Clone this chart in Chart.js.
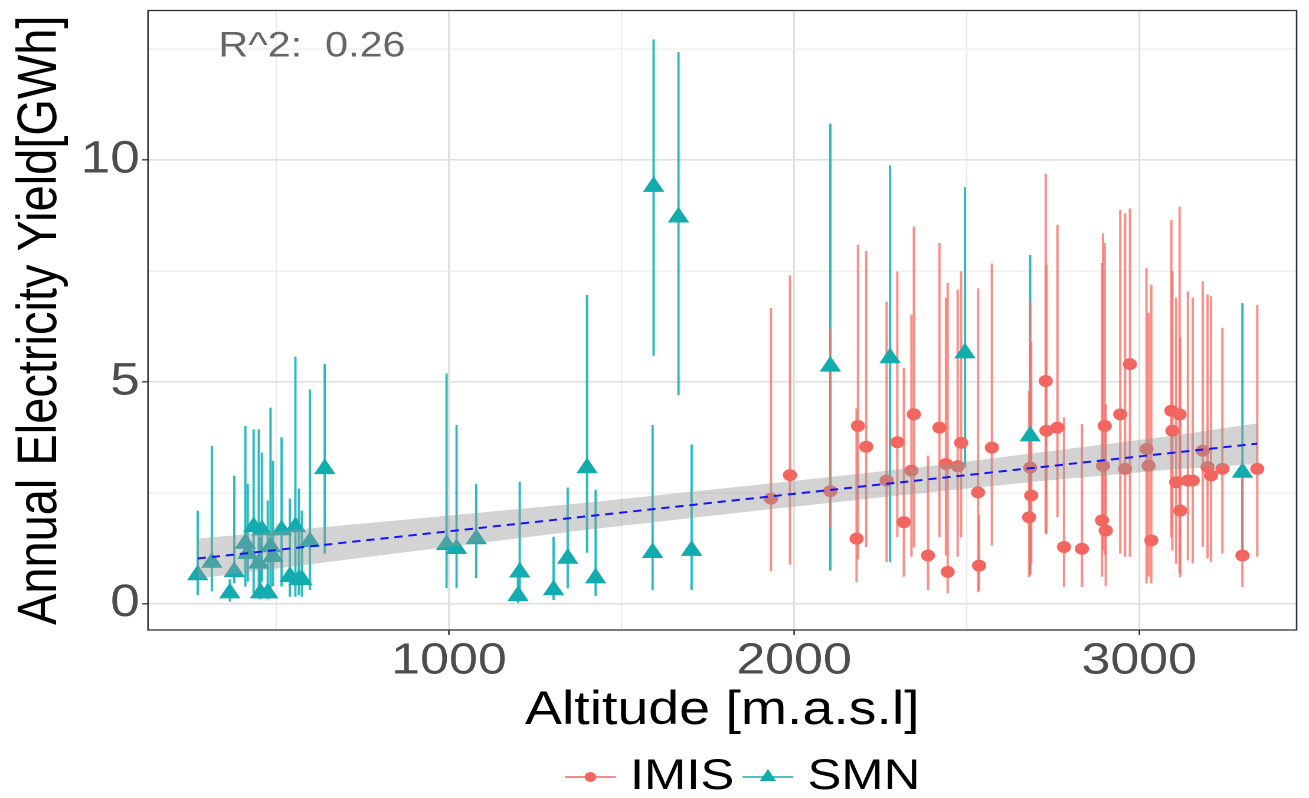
<!DOCTYPE html>
<html>
<head>
<meta charset="utf-8">
<script src="https://cdn.jsdelivr.net/npm/chart.js@4.4.1/dist/chart.umd.min.js"></script>
<style>
html, body { margin: 0; padding: 0; background: #ffffff; width: 1309px; height: 798px; overflow: hidden; }
#wrap { position: absolute; left: 0; top: 0; width: 1109px; height: 798px; transform: scaleX(1.18034); transform-origin: 0 0; }
canvas { display: block; }
</style>
</head>
<body>
<div id="wrap"><canvas id="chart" width="1109" height="798"></canvas></div>
<script>
// ---------------- data ----------------
const smnAltitude = [272, 313, 365, 378, 410, 417, 434, 449, 454, 458, 475, 483, 490, 515, 539, 555, 565, 574, 597, 640,
  993, 1022, 1079, 1200, 1205, 1303, 1344, 1400, 1425, 1590, 1593, 1665, 1703,
  2105, 2278, 2495, 2684, 3299];
const smnYield = [0.65, 0.93, 0.24, 0.72, 1.36, 1.13, 1.73, 0.91, 0.24, 1.66, 0.24, 1.28, 1.06, 1.66, 0.61, 1.73, 0.54, 0.54, 1.40, 3.04,
  1.33, 1.24, 1.46, 0.18, 0.71, 0.31, 1.02, 3.06, 0.58, 1.15, 9.40, 8.71, 1.20,
  5.35, 5.54, 5.65, 3.78, 2.96];
const smnLow = [0.20, 0.28, 0.05, 0.46, 0.39, 0.50, 0.24, 0.31, 0.10, 0.50, 0.10, 0.24, 0.40, 0.39, 0.16, 0.16, 0.20, 0.16, 0.31, 1.13,
  0.35, 0.35, 0.58, 0.00, 0.18, 0.09, 0.35, 1.15, 0.18, 0.31, 5.59, 4.70, 0.31,
  0.75, 0.94, 3.07, 0.67, 1.13];
const smnHigh = [2.10, 3.56, 0.55, 2.89, 4.01, 2.70, 3.93, 3.93, 1.50, 3.41, 2.33, 4.42, 3.22, 3.75, 2.37, 5.57, 2.60, 2.10, 4.83, 5.40,
  5.19, 4.03, 2.70, 0.65, 2.75, 1.51, 2.62, 6.96, 2.57, 4.03, 12.72, 12.43, 3.59,
  10.82, 9.88, 9.39, 7.86, 6.78];

const imisAltitude = [1933, 1988, 2105, 2185, 2181, 2209, 2268, 2299, 2318, 2340, 2347, 2388, 2421, 2445, 2440, 2474, 2484, 2533, 2536, 2573,
  2684, 2687, 2681, 2729, 2731, 2763, 2782, 2834, 2892, 2895, 2900, 2903, 2945, 2959, 2973, 3021, 3035, 3027, 3093, 3096,
  3117, 3119, 3107, 3141, 3155, 3184, 3198, 3208, 3241, 3299, 3342];
const imisYield = [2.37, 2.90, 2.54, 4.01, 1.47, 3.54, 2.78, 3.64, 1.84, 3.00, 4.27, 1.09, 3.97, 0.72, 3.15, 3.10, 3.63, 2.51, 0.86, 3.52,
  3.07, 2.44, 1.95, 5.02, 3.90, 3.97, 1.28, 1.24, 1.88, 3.11, 4.01, 1.65, 4.27, 3.04, 5.40, 3.49, 1.43, 3.11, 4.35, 3.90,
  4.27, 2.10, 2.74, 2.78, 2.78, 3.45, 3.08, 2.89, 3.04, 1.09, 3.04];
const imisLow = [0.73, 0.88, 1.72, 1.00, 0.49, 1.28, 0.94, 1.50, 0.61, 1.06, 1.27, 0.31, 1.50, 0.23, 1.09, 1.06, 1.50, 0.26, 0.30, 1.31,
  0.64, 0.90, 0.60, 1.57, 1.58, 1.95, 0.38, 0.38, 0.61, 1.20, 1.10, 0.40, 1.13, 1.06, 1.06, 0.46, 0.46, 0.61, 1.50, 1.20,
  0.68, 0.60, 0.90, 0.98, 0.91, 1.28, 1.02, 0.94, 1.13, 0.38, 1.06];
const imisHigh = [6.67, 7.40, 6.21, 8.09, 4.40, 7.95, 6.81, 7.49, 5.32, 6.52, 8.50, 3.34, 8.13, 7.23, 6.90, 7.08, 7.49, 7.11, 2.00, 7.67,
  6.81, 5.90, 4.80, 9.69, 7.64, 8.54, 4.20, 4.05, 7.68, 8.35, 8.13, 4.50, 8.88, 8.80, 8.91, 7.57, 7.19, 6.56, 8.65, 7.50,
  8.95, 6.00, 6.90, 7.04, 6.90, 7.27, 6.97, 6.93, 6.22, 3.00, 6.74];

// linear fit and its confidence band
const fitAltitude = [272, 3342];
const fitYield = [1.02, 3.61];
const bandAltitude = [272, 850, 1400, 1930, 2400, 2750, 3100, 3342];
const bandUpper = [1.47, 1.88, 2.28, 2.71, 3.11, 3.45, 3.79, 4.07];
const bandLower = [0.57, 1.14, 1.67, 2.13, 2.52, 2.79, 3.03, 3.15];

// ticks
const xMajorTicks = [1000, 2000, 3000];
const xTickLabels = ['1000', '2000', '3000'];
const xMinorTicks = [500, 1500, 2500];
const yMajorTicks = [0, 5, 10];
const yTickLabels = ['0', '5', '10'];
const yMinorTicks = [2.5, 7.5, 12.5];

// texts
const xTitle = 'Altitude [m.a.s.l]';
const yTitle = 'Annual Electricity Yield[GWh]';
const seriesNames = ['IMIS', 'SMN'];
const annotationText = 'R^2:  0.26';
const annotationAltitude = 603;
const annotationYield = 12.55;

// ---------------- styling ----------------
const RED = '#F2665F';
const TEAL = '#12ACAF';
const RED_BAR = 'rgba(246,112,104,0.78)';
const TEAL_BAR = 'rgba(0,172,176,0.82)';
const FONT = '"Liberation Sans", Arial, Helvetica, sans-serif';
Chart.defaults.font.family = FONT;

const toXY = (xs, ys) => xs.map((x, i) => ({ x: x, y: ys[i] }));
const toRange = (xs, lo, hi) => xs.map((x, i) => ({ x: x, y: [lo[i], hi[i]] }));

const gridColor = (majors) => (ctx) => majors.includes(ctx.tick.value) ? '#E0E0E0' : '#EAEAEA';
const gridWidth = (majors) => (ctx) => majors.includes(ctx.tick.value) ? 1.6 : 1.1;
const tickColor = (majors) => (ctx) => majors.includes(ctx.tick.value) ? '#333333' : 'rgba(0,0,0,0)';

const extras = {
  id: 'ggExtras',
  afterDraw(chart) {
    const { ctx, chartArea: a, scales } = chart;
    ctx.save();
    // panel border
    ctx.strokeStyle = '#333333';
    ctx.lineWidth = 1.3;
    ctx.strokeRect(a.left, a.top, a.right - a.left, a.bottom - a.top);
    // R^2 annotation
    ctx.fillStyle = '#666666';
    ctx.font = '35px ' + FONT;
    ctx.textAlign = 'center';
    ctx.textBaseline = 'middle';
    ctx.fillText(annotationText, scales.x.getPixelForValue(annotationAltitude), scales.y.getPixelForValue(annotationYield));
    // legend (ggplot style key: line + marker)
    const ly = 777;
    const keyW = 43, textGap = 12, itemGap = 7;
    const items = [
      { label: seriesNames[0], color: RED, style: 'circle', r: 5 },
      { label: seriesNames[1], color: TEAL, style: 'triangle', r: 8 }
    ];
    let x = 478.7;
    ctx.font = '43px ' + FONT;
    ctx.textAlign = 'left';
    ctx.textBaseline = 'middle';
    items.forEach(it => {
      ctx.strokeStyle = it.color;
      ctx.lineWidth = 1.6;
      ctx.beginPath();
      ctx.moveTo(x, ly);
      ctx.lineTo(x + keyW, ly);
      ctx.stroke();
      ctx.fillStyle = it.color;
      Chart.helpers.drawPoint(ctx, { pointStyle: it.style, radius: it.r, rotation: 0, borderWidth: 0 }, x + keyW / 2, ly);
      ctx.fillStyle = '#000000';
      const tx = x + keyW + textGap;
      ctx.fillText(it.label, tx, ly);
      x = tx + ctx.measureText(it.label).width + itemGap;
    });
    ctx.restore();
  }
};

new Chart(document.getElementById('chart'), {
  type: 'scatter',
  data: {
    datasets: [
      { type: 'line', label: 'fit', data: toXY(fitAltitude, fitYield), borderColor: '#1414FF', borderWidth: 2,
        borderDash: [7, 5], pointRadius: 0, fill: false, order: 1 },
      { type: 'line', label: 'ci upper', data: toXY(bandAltitude, bandUpper), borderWidth: 0, borderColor: 'rgba(0,0,0,0)',
        pointRadius: 0, backgroundColor: 'rgba(150,150,150,0.42)', fill: '+1', order: 2 },
      { type: 'line', label: 'ci lower', data: toXY(bandAltitude, bandLower), borderWidth: 0, borderColor: 'rgba(0,0,0,0)',
        pointRadius: 0, fill: false, order: 2 },
      { type: 'scatter', label: seriesNames[0], data: toXY(imisAltitude, imisYield), pointStyle: 'circle', pointRadius: 6,
        backgroundColor: RED, borderWidth: 0, order: 3 },
      { type: 'scatter', label: seriesNames[1], data: toXY(smnAltitude, smnYield), pointStyle: 'triangle', pointRadius: 10.5,
        backgroundColor: TEAL, borderWidth: 0, order: 3 },
      { type: 'bar', label: seriesNames[0] + ' range', data: toRange(imisAltitude, imisLow, imisHigh), backgroundColor: RED_BAR,
        borderWidth: 0, barThickness: 2.0, inflateAmount: 0, stack: 'err', order: 5 },
      { type: 'bar', label: seriesNames[1] + ' range', data: toRange(smnAltitude, smnLow, smnHigh), backgroundColor: TEAL_BAR,
        borderWidth: 0, barThickness: 2.0, inflateAmount: 0, stack: 'err', order: 5 }
    ]
  },
  options: {
    responsive: false,
    devicePixelRatio: 2,
    animation: false,
    events: [],
    layout: { padding: { left: 0, right: 1.68, top: 8, bottom: 59 } },
    plugins: { legend: { display: false }, tooltip: { enabled: false } },
    scales: {
      x: {
        type: 'linear', min: 128, max: 3456, offset: false,
        afterBuildTicks: (s) => { s.ticks = xMinorTicks.concat(xMajorTicks).sort((a, b) => a - b).map(v => ({ value: v })); },
        afterFit: (s) => { s.height = 109; s.paddingLeft = 0; s.paddingRight = 0; },
        ticks: {
          autoSkip: false, maxRotation: 0, minRotation: 0, padding: 0, color: '#4D4D4D', font: { size: 44 },
          callback: (v) => { const i = xMajorTicks.indexOf(v); return i >= 0 ? xTickLabels[i] : ''; }
        },
        grid: { color: gridColor(xMajorTicks), lineWidth: gridWidth(xMajorTicks), tickColor: tickColor(xMajorTicks),
          tickLength: 5, tickWidth: 1.3, offset: false },
        border: { display: false },
        title: { display: true, text: xTitle, color: '#000000', font: { size: 47 }, padding: 0 }
      },
      y: {
        type: 'linear', min: -0.59, max: 13.37, stacked: false,
        afterBuildTicks: (s) => { s.ticks = yMajorTicks.concat(yMinorTicks).sort((a, b) => a - b).map(v => ({ value: v })); },
        afterFit: (s) => { s.width = 125.39; s.paddingTop = 0; s.paddingBottom = 0; },
        ticks: {
          autoSkip: false, padding: 2, color: '#4D4D4D', font: { size: 45 },
          callback: (v) => { const i = yMajorTicks.indexOf(v); return i >= 0 ? yTickLabels[i] : ''; }
        },
        grid: { color: gridColor(yMajorTicks), lineWidth: gridWidth(yMajorTicks), tickColor: tickColor(yMajorTicks),
          tickLength: 5, tickWidth: 1.3 },
        border: { display: false },
        title: { display: true, text: yTitle, color: '#000000', font: { size: 47 }, padding: { top: 6.5, bottom: 0 } }
      }
    }
  },
  plugins: [extras]
});
</script>
</body>
</html>
